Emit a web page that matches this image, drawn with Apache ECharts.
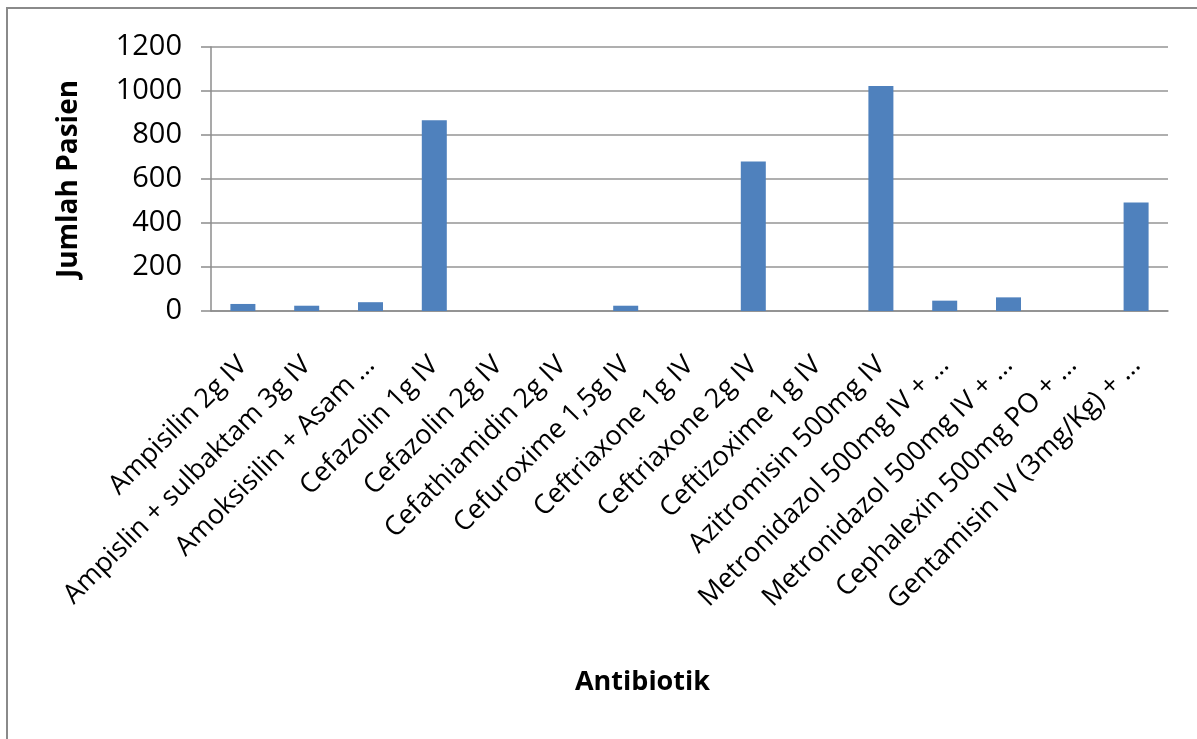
<!DOCTYPE html>
<html>
<head>
<meta charset="utf-8">
<script src="https://cdn.jsdelivr.net/npm/echarts@6/dist/echarts.min.js"></script>
<style>
  html, body { margin: 0; padding: 0; background: #fff; overflow: hidden; }
  #chart { width: 1197px; height: 739px; }
  #frame {
    position: absolute; left: 6px; top: 7px; width: 1400px; height: 900px;
    border-left: 2px solid #8a8a8a; border-top: 2px solid #8a8a8a;
    pointer-events: none;
  }
</style>
</head>
<body>
<div id="chart"></div>
<div id="frame"></div>
<script>
// antibiotic names as shown (Excel truncated the long ones)
var antibiotik = [
    'Ampisilin 2g IV',
    'Ampislin + sulbaktam 3g IV',
    'Amoksisilin + Asam …',
    'Cefazolin 1g IV',
    'Cefazolin 2g IV',
    'Cefathiamidin 2g IV',
    'Cefuroxime 1,5g IV',
    'Ceftriaxone 1g IV',
    'Ceftriaxone 2g IV',
    'Ceftizoxime 1g IV',
    'Azitromisin 500mg IV',
    'Metronidazol 500mg IV + …',
    'Metronidazol 500mg IV + …',
    'Cephalexin 500mg PO + …',
    'Gentamisin IV (3mg/Kg) + …'
];
var jumlahPasien = [32, 24, 40, 867, 0, 0, 24, 0, 680, 0, 1023, 47, 62, 0, 493];
var yTicks = [0, 200, 400, 600, 800, 1000, 1200];

var font = '"Open Sans", sans-serif';
var chart = echarts.init(document.getElementById('chart'));

var option = {
    animation: false,
    textStyle: { fontFamily: font },
    grid: {
        left: 211,
        right: 29,
        top: 47,
        bottom: 428,
        outerBoundsMode: 'none'
    },
    xAxis: {
        type: 'category',
        data: antibiotik,
        name: 'Antibiotik',
        nameLocation: 'middle',
        nameGap: 358,
        nameTextStyle: {
            fontFamily: font, fontSize: 27, fontWeight: 'bold', color: '#000',
            padding: [0, 94, 0, 0]
        },
        axisLine: { lineStyle: { color: '#8c8c8c', width: 1.5 } },
        axisTick: { show: false },
        axisLabel: {
            interval: 0,
            rotate: 45,
            margin: 50,
            fontFamily: font,
            fontSize: 27,
            color: '#000'
        }
    },
    yAxis: {
        type: 'value',
        min: yTicks[0],
        max: yTicks[yTicks.length - 1],
        interval: 200,
        name: 'Jumlah Pasien',
        nameLocation: 'middle',
        nameGap: 128,
        nameTextStyle: { fontFamily: font, fontSize: 28, fontWeight: 'bold', color: '#000' },
        axisLine: { show: true, lineStyle: { color: '#8c8c8c', width: 1.5 } },
        axisTick: { show: true, length: 10, lineStyle: { color: '#8c8c8c', width: 1.5 } },
        axisLabel: {
            margin: 29,
            fontFamily: font,
            fontSize: 29,
            color: '#000',
            formatter: function (v) { return String(v); }
        },
        splitLine: { lineStyle: { color: '#959595', width: 1.5 } }
    },
    series: [
        {
            type: 'bar',
            data: jumlahPasien,
            barWidth: 25,
            itemStyle: { color: '#4f81bd' }
        }
    ]
};

chart.setOption(option);
</script>
</body>
</html>
